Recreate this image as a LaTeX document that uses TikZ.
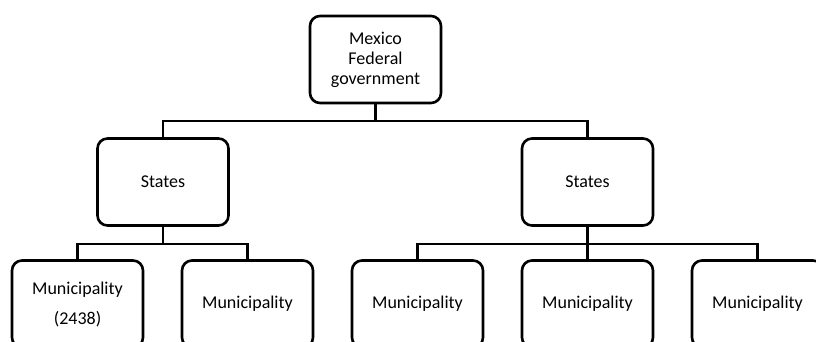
\documentclass[tikz,border=0pt]{standalone}
\usepackage{fontspec}
\setmainfont{Carlito}

\begin{document}
\begin{tikzpicture}[x=1pt, y=-1pt,
    main/.style = {draw, line width=2.6pt, rounded corners=10pt, minimum width=131pt, minimum height=87pt, align=center, font=\fontsize{18}{20}\selectfont},
    link/.style = {line width=2.2pt}]
            \clip (0,0) rectangle (816,341);
            \node[main] (0) at (375.5,59.5) {Mexico\\Federal\\government};
            \node[main] (1) at (163,182) {States};
            \node[main] (2) at (587.5,182) {States};
            \node[main] (3) at (77.5,304) {Municipality\\[10pt](2438)};
            \node[main] (4) at (247.5,304) {Municipality};
            \node[main] (5) at (417.5,304) {Municipality};
            \node[main] (6) at (587.5,304) {Municipality};
            \node[main] (7) at (757.5,304) {Municipality};
            \draw[link] (0.south) -- ++(0,17) -| (1.north);
            \draw[link] (0.south) -- ++(0,17) -| (2.north);
            \draw[link] (1.south) -- ++(0,17) -| (3.north);
            \draw[link] (1.south) -- ++(0,17) -| (4.north);
            \draw[link] (2.south) -- ++(0,17) -| (5.north);
            \draw[link] (2.south) -- (6.north);
            \draw[link] (2.south) -- ++(0,17) -| (7.north);
\end{tikzpicture}
\end{document}
